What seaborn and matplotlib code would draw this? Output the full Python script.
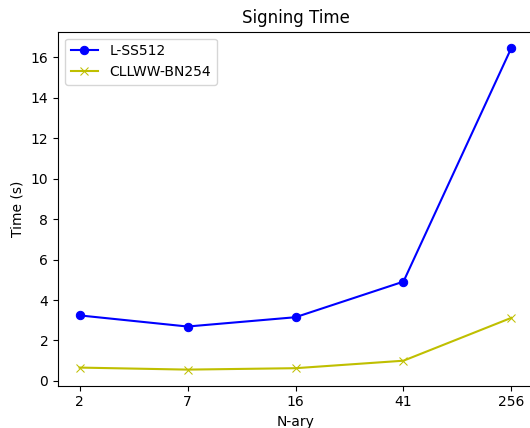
import pandas as pd
import matplotlib
matplotlib.use("Agg")
import matplotlib.pyplot as plt
import seaborn as sns

# Data
n_ary = ["2", "7", "16", "41", "256"]
lss512 = [3.24, 2.69, 3.15, 4.91, 16.47]
cllww_bn254 = [0.66, 0.56, 0.63, 1.00, 3.12]

df = pd.DataFrame({"N-ary": n_ary, "L-SS512": lss512, "CLLWW-BN254": cllww_bn254})

fig = plt.figure(figsize=(5.3, 4.28), dpi=100)
ax = fig.add_axes([58 / 530, 42.3 / 428, 475 / 530, 354 / 428])
sns.lineplot(data=df, x="N-ary", y="L-SS512", ax=ax, color="b", marker="o",
             markeredgecolor="b", label="L-SS512")
sns.lineplot(data=df, x="N-ary", y="CLLWW-BN254", ax=ax, color="y", marker="x",
             markeredgecolor="y", label="CLLWW-BN254")

ax.set_title("Signing Time")
ax.set_xlabel("N-ary")
ax.set_ylabel("Time (s)")
ax.legend(loc="upper left")
plt.savefig("out.png")
